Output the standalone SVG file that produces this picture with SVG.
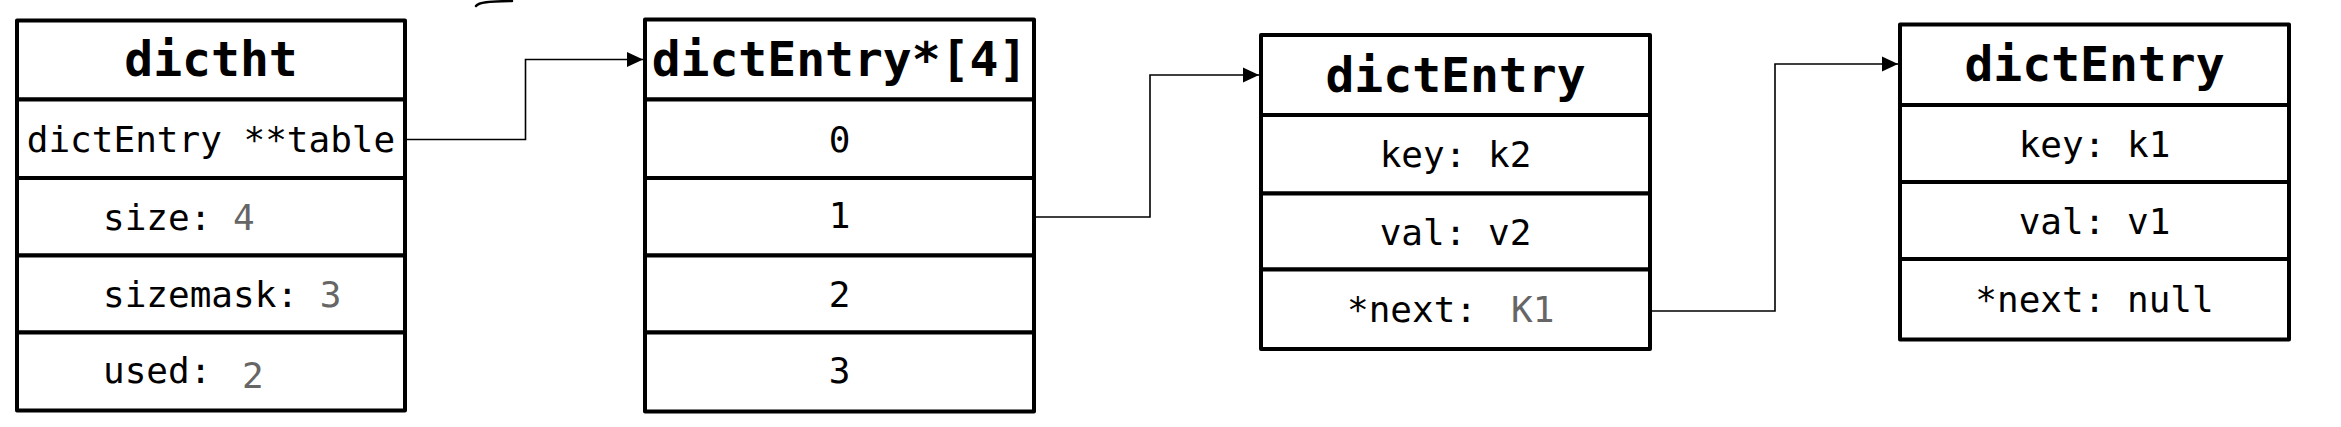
<svg xmlns="http://www.w3.org/2000/svg" width="2341" height="427" viewBox="0 0 2341 427">
<style>
.box{fill:#fff;stroke:#000;stroke-width:4;stroke-linejoin:round}
.t{font-family:"DejaVu Sans Mono","Liberation Mono",monospace;font-size:36px;fill:#000}
.h{font-family:"DejaVu Sans Mono","Liberation Mono",monospace;font-size:48px;font-weight:bold;fill:#000;text-anchor:middle}
.c{text-anchor:middle}
.g{fill:#666}
.conn{fill:none;stroke:#000;stroke-width:1.6}
</style>
<defs>
<marker id="arr" markerUnits="userSpaceOnUse" viewBox="0 0 16 16" refX="16" refY="8" markerWidth="16" markerHeight="16" orient="auto">
<path d="M0,0.5 L16,8 L0,15.5 z" fill="#000"/>
</marker>
</defs>
<rect width="2341" height="427" fill="#fff"/>
<path d="M476,6 C479,2 488,1.5 512,1" fill="none" stroke="#000" stroke-width="2.5" stroke-linecap="round"/>
<g id="connectors">
<path class="conn" d="M405,139.5 H525.5 V59.5 H643" marker-end="url(#arr)"/>
<path class="conn" d="M1034,217 H1150 V75 H1259" marker-end="url(#arr)"/>
<path class="conn" d="M1650,311 H1775 V64 H1898" marker-end="url(#arr)"/>
</g>
<g id="dictht">
<rect class="box" x="17" y="20.5" width="388" height="79"/>
<rect class="box" x="17" y="99.5" width="388" height="78.5"/>
<rect class="box" x="17" y="178" width="388" height="77.5"/>
<rect class="box" x="17" y="255.5" width="388" height="77"/>
<rect class="box" x="17" y="332.5" width="388" height="78"/>
<text class="h" x="211" y="76">dictht</text>
<text class="t c" x="211" y="152">dictEntry **table</text>
<text class="t" x="103" y="230">size: <tspan class="g">4</tspan></text>
<text class="t" x="103" y="307">sizemask: <tspan class="g">3</tspan></text>
<text class="t" x="103" y="383">used:<tspan class="g" x="242" y="388">2</tspan></text>
</g>
<g id="table">
<rect class="box" x="645" y="19.5" width="389" height="80"/>
<rect class="box" x="645" y="99.5" width="389" height="78.5"/>
<rect class="box" x="645" y="178" width="389" height="77.5"/>
<rect class="box" x="645" y="255.5" width="389" height="77"/>
<rect class="box" x="645" y="332.5" width="389" height="79"/>
<text class="h" x="839.5" y="76">dictEntry*[4]</text>
<text class="t c" x="839.5" y="152">0</text>
<text class="t c" x="839.5" y="228">1</text>
<text class="t c" x="839.5" y="307">2</text>
<text class="t c" x="839.5" y="383">3</text>
</g>
<g id="entry_k2">
<rect class="box" x="1261" y="35" width="389" height="80"/>
<rect class="box" x="1261" y="115" width="389" height="78.5"/>
<rect class="box" x="1261" y="193.5" width="389" height="76"/>
<rect class="box" x="1261" y="269.5" width="389" height="79.5"/>
<text class="h" x="1455.5" y="92">dictEntry</text>
<text class="t c" x="1455.5" y="167">key: k2</text>
<text class="t c" x="1455.5" y="245">val: v2</text>
<text class="t" x="1347" y="322">*next:<tspan class="g" x="1511">K1</tspan></text>
</g>
<g id="entry_k1">
<rect class="box" x="1900" y="24.5" width="389" height="80.5"/>
<rect class="box" x="1900" y="105" width="389" height="77"/>
<rect class="box" x="1900" y="182" width="389" height="77"/>
<rect class="box" x="1900" y="259" width="389" height="80.5"/>
<text class="h" x="2094.5" y="81">dictEntry</text>
<text class="t c" x="2094.5" y="157">key: k1</text>
<text class="t c" x="2094.5" y="234">val: v1</text>
<text class="t c" x="2094.5" y="312">*next: null</text>
</g>
</svg>
